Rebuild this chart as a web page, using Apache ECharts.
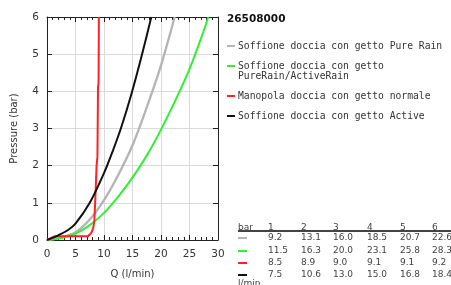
<!DOCTYPE html>
<html>
<head>
<meta charset="utf-8">
<script src="https://cdn.jsdelivr.net/npm/echarts@6/dist/echarts.min.js"></script>
<style>
  html, body { margin: 0; padding: 0; background: #fff; }
  #chart { width: 451px; height: 285px; }
</style>
</head>
<body>
<div id="chart"></div>
<script>
// table: pressures (bar) and flow (l/min) per shower, as printed
var pressures = [1, 2, 3, 4, 5, 6];
var tablePureRain = [9.2, 13.1, 16.0, 18.5, 20.7, 22.6];
var tablePureActive = [11.5, 16.3, 20.0, 23.1, 25.8, 28.3];
var tableNormale = [8.5, 8.9, 9.0, 9.1, 9.1, 9.2];
var tableActive = [7.5, 10.6, 13.0, 15.0, 16.8, 18.4];

// curves, [Q l/min, P bar]
var curvePureRain = [[0, 0], [2.5, 0.07], [5, 0.21], [7.5, 0.55], [10, 1.07], [12.5, 1.75], [15, 2.55], [17.5, 3.57], [20, 4.7], [22.4, 6]];
var curvePureActive = [[0, 0], [2.5, 0.05], [5, 0.17], [7.5, 0.4], [10, 0.73], [12.5, 1.17], [15, 1.68], [17.5, 2.27], [20, 2.97], [22.5, 3.75], [25, 4.6], [27.5, 5.63], [28.3, 6]];
var curveNormale = [[0, 0], [1.3, 0.1], [7.2, 0.1], [7.5, 0.13], [7.8, 0.2], [8.1, 0.32], [8.3, 0.5], [8.45, 1], [8.7, 2], [8.85, 2.25], [8.95, 4.1], [9.05, 4.25], [9.1, 6]];
var curveActive = [[0, 0], [1.6, 0.1], [3.7, 0.27], [5, 0.44], [7.5, 1], [10, 1.8], [11.5, 2.38], [13, 3.02], [14.85, 3.95], [16.6, 4.95], [18.3, 6]];

var names = [
  'Soffione doccia con getto Pure Rain',
  'Soffione doccia con getto\nPureRain/ActiveRain',
  'Manopola doccia con getto normale',
  'Soffione doccia con getto Active'
];
var colors = ['#b4b4b4', '#33ee33', '#ff2222', '#111111'];
var tables = [tablePureRain, tablePureActive, tableNormale, tableActive];
var curves = [curvePureRain, curvePureActive, curveNormale, curveActive];
var title = '26508000';

var chart = echarts.init(document.getElementById('chart'));

var tickStyle = { color: '#222', width: 1 };
var xBase = {
  type: 'value', min: 0, max: 30, interval: 5,
  axisLine: { show: true, onZero: false, lineStyle: { color: '#222', width: 1 } },
  axisTick: { show: true, inside: true, length: 5, lineStyle: tickStyle },
  minorTick: { show: true, splitNumber: 5, length: 3, lineStyle: tickStyle }
};
var yBase = {
  type: 'value', min: 0, max: 6, interval: 1,
  axisLine: { show: true, onZero: false, lineStyle: { color: '#222', width: 1 } },
  axisTick: { show: true, inside: true, length: 5, lineStyle: tickStyle }
};

var graphics = [];
graphics.push({
  type: 'text', left: 227, top: 14,
  style: { text: title, font: 'bold 10.5px "DejaVu Sans"', fill: '#111' }
});

// legend
var legY = [46, 66, 96, 116];
for (var i = 0; i < names.length; i++) {
  graphics.push({
    type: 'rect', shape: { x: 227, y: legY[i] - 1, width: 8, height: 2 },
    style: { fill: colors[i] }
  });
  graphics.push({
    type: 'text', x: 238, y: legY[i] - 5,
    style: { text: names[i], font: '9.7px "DejaVu Sans Mono"', fill: '#333', lineHeight: 10 }
  });
}

// table
var colX = [268, 301, 333, 367, 400, 432];
var rowY = [238, 251, 263, 275];
var tFont = '9px "DejaVu Sans"';
graphics.push({ type: 'text', x: 238, y: 223, style: { text: 'bar', font: tFont, fill: '#444' } });
for (var c = 0; c < pressures.length; c++) {
  graphics.push({ type: 'text', x: colX[c], y: 223, style: { text: String(pressures[c]), font: tFont, fill: '#444' } });
}
graphics.push({ type: 'rect', shape: { x: 238, y: 230, width: 213, height: 2 }, style: { fill: '#444' } });
for (var r = 0; r < tables.length; r++) {
  graphics.push({
    type: 'rect', shape: { x: 238, y: rowY[r] - 1, width: 9, height: 2 },
    style: { fill: colors[r] }
  });
  for (var c = 0; c < tables[r].length; c++) {
    graphics.push({
      type: 'text', x: colX[c], y: rowY[r] - 5,
      style: { text: tables[r][c].toFixed(1), font: tFont, fill: '#444' }
    });
  }
}
graphics.push({ type: 'text', x: 238, y: 279, style: { text: 'l/min', font: tFont, fill: '#444' } });

var series = [];
for (var i = 0; i < curves.length; i++) {
  series.push({
    type: 'line',
    data: curves[i],
    smooth: i === 2 ? false : 0.3,
    showSymbol: false,
    lineStyle: { color: colors[i], width: i === 0 ? 2.3 : 2, join: 'round' },
    animation: false,
    z: 3
  });
}

chart.setOption({
  animation: false,
  grid: { left: 47, right: 233, top: 17, bottom: 45 },
  xAxis: [
    Object.assign({}, xBase, {
      position: 'bottom',
      name: 'Q (l/min)', nameLocation: 'middle', nameGap: 29,
      nameTextStyle: { color: '#333', fontSize: 10, fontFamily: 'DejaVu Sans' },
      axisLabel: { color: '#333', fontSize: 10.5, fontFamily: 'DejaVu Sans', margin: 9 },
      splitLine: { show: true, lineStyle: { color: '#dadada', width: 1 } }
    }),
    Object.assign({}, xBase, {
      position: 'top',
      axisLabel: { show: false },
      splitLine: { show: false }
    })
  ],
  yAxis: [
    Object.assign({}, yBase, {
      position: 'left',
      name: 'Pressure (bar)', nameLocation: 'middle', nameGap: 28,
      nameTextStyle: { color: '#333', fontSize: 10, fontFamily: 'DejaVu Sans' },
      axisLabel: { color: '#333', fontSize: 10.5, fontFamily: 'DejaVu Sans', margin: 8 },
      splitLine: { show: true, lineStyle: { color: '#dadada', width: 1 } }
    }),
    Object.assign({}, yBase, {
      position: 'right',
      axisLabel: { show: false },
      splitLine: { show: false }
    })
  ],
  graphic: graphics,
  series: series
});
</script>
</body>
</html>
